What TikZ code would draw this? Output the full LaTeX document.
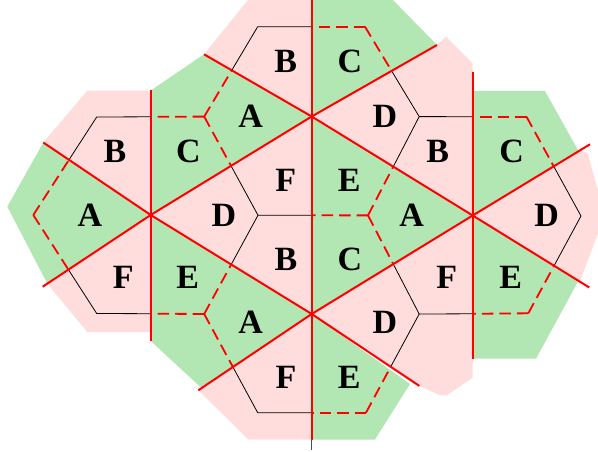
\documentclass[tikz,border=0pt]{standalone}
\usepackage{fontspec}
\setmainfont{Liberation Serif}
\definecolor{pk}{RGB}{255,221,221}
\definecolor{gn}{RGB}{178,230,178}
\tikzset{
  redline/.style={draw=red, line width=2pt},
  blackedge/.style={draw=black, line width=0.8pt, line join=miter},
  dashedge/.style={draw=red, line width=1.8pt, dash pattern=on 11.5pt off 6pt},
  pinkfill/.style={fill=pk},
  greenfill/.style={fill=gn},
  lbl/.style={font=\fontsize{34}{34}\selectfont\bfseries, inner sep=0pt}
}
\begin{document}
\begin{tikzpicture}[x=1pt,y=-1pt]
\useasboundingbox (0,0) rectangle (598,452);
% centres
\coordinate (C1) at (150.7,215);
\coordinate (C2) at (311.7,116.5);
\coordinate (C3) at (311.7,314);
\coordinate (C4) at (472.7,215.5);
% red line ends
\coordinate (V1t) at (150.7,90.5);  \coordinate (V1b) at (150.7,341);
\coordinate (V2t) at (311.7,-5);    \coordinate (V2b) at (311.7,439.5);
\coordinate (V2x) at (311.7,449.5);
\coordinate (V3t) at (472.7,71.7);  \coordinate (V3b) at (472.7,359.3);
\coordinate (LaL) at (42.7,286.7);  \coordinate (LaR) at (437,45);
\coordinate (LbL) at (43.3,142.5);  \coordinate (LbR) at (419.3,385.9);
\coordinate (LcL) at (204,54.3);    \coordinate (LcR) at (589.3,287.5);
\coordinate (LdL) at (198.3,390.3); \coordinate (LdR) at (590,144.3);
% ---------- fills ----------
\fill[pinkfill] (C1) -- (C2) -- (C3) -- cycle;
\fill[pinkfill] (C1) -- (LbL) -- (87.3,90.7) -- (V1t) -- cycle;
\fill[pinkfill] (C2) -- (LcL) -- (252,-5) -- (V2t) -- cycle;
\fill[pinkfill] (C2) -- (LaR) -- (446,36.7) -- (472.7,63.3) -- (C4) -- cycle;
\fill[pinkfill] (C4) -- (580,150.5) -- (587.5,153) -- (605,215) -- (580,281.5) -- cycle;
\fill[pinkfill] (C3) -- (C4) -- (472.7,377.7) -- (446.7,395.3) -- (440,395.3) -- (LbR) -- cycle;
\fill[pinkfill] (C3) -- (LdL) -- (248.3,439.5) -- (V2b) -- cycle;
\fill[pinkfill] (C1) -- (150.7,332) -- (87.3,332) -- (47.5,284) -- cycle;
\fill[greenfill] (C2) -- (C3) -- (C4) -- cycle;
\fill[greenfill] (C1) -- (V1t) -- (LcL) -- (C2) -- cycle;
\fill[greenfill] (C2) -- (V2t) -- (388,-5) -- (LaR) -- cycle;
\fill[greenfill] (C4) -- (472.7,91) -- (545,91) -- (578.6,151.2) -- cycle;
\fill[greenfill] (C4) -- (578.3,281) -- (536,358.7) -- (472.7,358.7) -- cycle;
\fill[greenfill] (C3) -- (410,384) -- (375,439.5) -- (V2b) -- cycle;
\fill[greenfill] (C1) -- (C3) -- (201,387.5) -- (V1b) -- cycle;
\fill[greenfill] (C1) -- (LbL) -- (7.3,206.7) -- (47.5,284) -- cycle;
% ---------- small hexagon vertices ----------
\coordinate (Q1) at (258,215.25);
\coordinate (Q2) at (204.2,116.6);
\coordinate (Q3) at (204.2,314);
\coordinate (Q4) at (419.2,116.6);
\coordinate (Q5) at (368,215.4);
\coordinate (Q6) at (419.2,314);
\coordinate (A2) at (96.7,117);
\coordinate (A3) at (33.3,215);
\coordinate (A4) at (96.7,313.5);
\coordinate (B1) at (365,26.7);
\coordinate (B2) at (257.7,26.7);
\coordinate (D4) at (257.7,412.7);
\coordinate (D5) at (366,412.7);
\coordinate (E0) at (581,216);
\coordinate (E1) at (526.5,116.7);
\coordinate (E5) at (528.3,313.3);
% crossings with the red lines
\coordinate (a0) at (231.05,165.85);
\coordinate (a1) at (150.7,116.8);
\coordinate (a2) at (69,159.8);
\coordinate (a3) at (68.4,269.6);
\coordinate (a4) at (150.7,313.7);
\coordinate (a5) at (231.2,264.5);
\coordinate (b0) at (391.6,70.9);
\coordinate (b1) at (311.7,26.7);
\coordinate (b2) at (231.75,70.3);
\coordinate (b4) at (311.7,215.3);
\coordinate (b5) at (393.3,166.6);
\coordinate (c0) at (393.3,264.1);
\coordinate (c3) at (232.9,367);
\coordinate (c4) at (311.7,412.7);
\coordinate (c5) at (390.7,366.8);
\coordinate (d0) at (553.7,166.3);
\coordinate (d1) at (472.7,116.7);
\coordinate (d4) at (472.7,313.8);
\coordinate (d5) at (554.1,265.7);
% ---------- black (pink) half edges ----------
\draw[blackedge] (a0) -- (Q1) -- (a5);
\draw[blackedge] (Q1) -- (b4);
\draw[blackedge] (a1) -- (A2) -- (a2);
\draw[blackedge] (a3) -- (A4) -- (a4);
\draw[blackedge] (b1) -- (B2) -- (b2);
\draw[blackedge] (b0) -- (Q4) -- (b5);
\draw[blackedge] (Q4) -- (d1);
\draw[blackedge] (c0) -- (Q6) -- (c5);
\draw[blackedge] (Q6) -- (d4);
\draw[blackedge] (c3) -- (D4) -- (c4);
\draw[blackedge] (d0) -- (E0) -- (d5);
% ---------- red dashed (green) half edges ----------
\foreach \v/\m in {Q2/a0, Q2/a1, Q2/b2, Q3/a5, Q3/a4, Q3/c3,
                   Q5/b5, Q5/b4, Q5/c0, A3/a2, A3/a3, B1/b0, B1/b1,
                   D5/c4, D5/c5, E1/d0, E1/d1, E5/d4, E5/d5}
  \draw[dashedge] (\v) -- (\m);
% ---------- red lines ----------
\draw[redline] (V1t) -- (V1b);
\draw[redline] (V2t) -- (V2b);
\draw[black!70, line width=0.8pt] (V2b) -- (V2x);
\draw[redline] (V3t) -- (V3b);
\draw[redline] (LaL) -- (C1) -- (C2) -- (LaR);
\draw[redline] (LbL) -- (C1) -- (C3) -- (LbR);
\draw[redline] (LcL) -- (C2) -- (C4) -- (LcR);
\draw[redline] (LdL) -- (C3) -- (C4) -- (LdR);
% ---------- labels ----------
\node[lbl] (l1A) at (90,215) {A};
\node[lbl] (l1B) at (115,151.7) {B};
\node[lbl] (l1C) at (188.3,151.7) {C};
\node[lbl] (l1D) at (224,215) {D};
\node[lbl] (l1E) at (187.7,277.7) {E};
\node[lbl] (l1F) at (123.3,277.7) {F};
\node[lbl] (l2A) at (250.7,116.5) {A};
\node[lbl] (l2B) at (285.7,61.7) {B};
\node[lbl] (l2C) at (350,61.7) {C};
\node[lbl] (l2D) at (385,116.7) {D};
\node[lbl] (l2E) at (349.3,180) {E};
\node[lbl] (l2F) at (285.7,180) {F};
\node[lbl] (l3A) at (250.7,322.7) {A};
\node[lbl] (l3B) at (286,259.3) {B};
\node[lbl] (l3C) at (350,259.3) {C};
\node[lbl] (l3D) at (385,322.7) {D};
\node[lbl] (l3E) at (349.3,377.7) {E};
\node[lbl] (l3F) at (286,377) {F};
\node[lbl] (l4A) at (411.7,215) {A};
\node[lbl] (l4B) at (437.7,151.7) {B};
\node[lbl] (l4C) at (511.7,151.7) {C};
\node[lbl] (l4D) at (546.7,215) {D};
\node[lbl] (l4E) at (510.7,277.7) {E};
\node[lbl] (l4F) at (446.7,277.7) {F};
\end{tikzpicture}
\end{document}
